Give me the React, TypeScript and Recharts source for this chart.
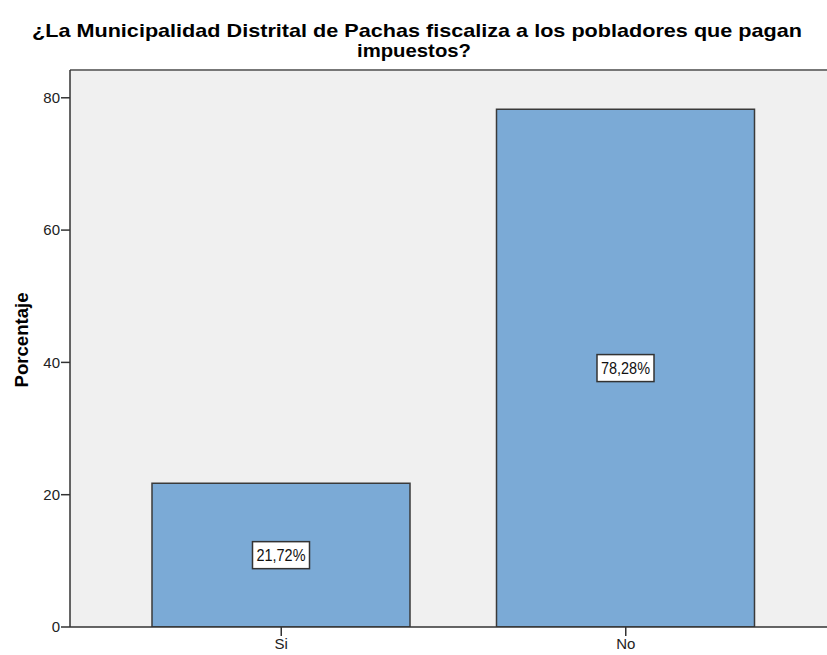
import { BarChart, Bar, XAxis, YAxis, CartesianGrid, ReferenceLine, LabelList } from 'recharts'

const categorias = ['Si', 'No']
const porcentajes = [21.72, 78.28]
const etiquetas = ['21,72%', '78,28%']
const yTicks = [0, 20, 40, 60, 80]
const yMax = 84.2

const data = categorias.map((c, i) => ({ cat: c, pct: porcentajes[i], etq: etiquetas[i] }))

const FONT = '"Liberation Sans", Arial, sans-serif'

function BarLabel(props: any) {
  const { x, y, width, height, value } = props
  const cx = x + width / 2
  const cy = y + height / 2
  return (
    <g>
      <rect x={cx - 28.5} y={cy - 13.5} width={57} height={27} fill="#fff" stroke="#333" strokeWidth={1.5} />
      <text x={cx} y={cy + 6} textAnchor="middle" fontFamily={FONT} fontSize={16} fill="#111"
        textLength={49} lengthAdjust="spacingAndGlyphs">
        {value}
      </text>
    </g>
  )
}

function YLabel() {
  return (
    <text x={0} y={0} transform="translate(28, 340) rotate(-90)" textAnchor="middle"
      fontFamily={FONT} fontSize={18} fontWeight={700} fill="#000"
      textLength={95} lengthAdjust="spacingAndGlyphs">
      Porcentaje
    </text>
  )
}

export default function App() {
  return (
    <div style={{ position: 'absolute', left: 0, top: 0, width: 827, height: 655, background: '#fff' }}>
      <svg width={827} height={70} style={{ position: 'absolute', left: 0, top: 0 }}>
        <text x={417} y={37} textAnchor="middle" fontFamily={FONT} fontSize={19} fontWeight={700} fill="#000"
          textLength={770} lengthAdjust="spacingAndGlyphs">
          ¿La Municipalidad Distrital de Pachas fiscaliza a los pobladores que pagan
        </text>
        <text x={414} y={57} textAnchor="middle" fontFamily={FONT} fontSize={19} fontWeight={700} fill="#000"
          textLength={114} lengthAdjust="spacingAndGlyphs">
          impuestos?
        </text>
      </svg>
      <div style={{ position: 'absolute', left: 0, top: 0 }}>
        <BarChart width={827} height={655} data={data} margin={{ top: 70, right: 0, left: 0, bottom: 0 }} barSize={258}>
          <CartesianGrid fill="#F0F0F0" horizontal={false} vertical={false} />
          <XAxis
            dataKey="cat"
            padding={{ left: 39, right: 29 }}
            axisLine={{ stroke: '#333', strokeWidth: 1.5 }}
            tickLine={{ stroke: '#333', strokeWidth: 1.5 }}
            tickSize={9}
            tickMargin={2}
            height={28}
            tick={{ fontFamily: FONT, fontSize: 15, fill: '#222' }}
          />
          <YAxis
            domain={[0, yMax]}
            ticks={yTicks}
            allowDataOverflow
            width={70}
            axisLine={{ stroke: '#333', strokeWidth: 1.5 }}
            tickLine={{ stroke: '#333', strokeWidth: 1.5 }}
            tickSize={9}
            tickMargin={1}
            tick={{ fontFamily: FONT, fontSize: 15, fill: '#222' }}
            label={<YLabel />}
          />
          <ReferenceLine y={yMax} stroke="#777" strokeWidth={2} />
          <Bar dataKey="pct" fill="#7BAAD6" stroke="#3a3a3a" strokeWidth={1.5} isAnimationActive={false}>
            <LabelList dataKey="etq" content={<BarLabel />} />
          </Bar>
        </BarChart>
      </div>
    </div>
  )
}
